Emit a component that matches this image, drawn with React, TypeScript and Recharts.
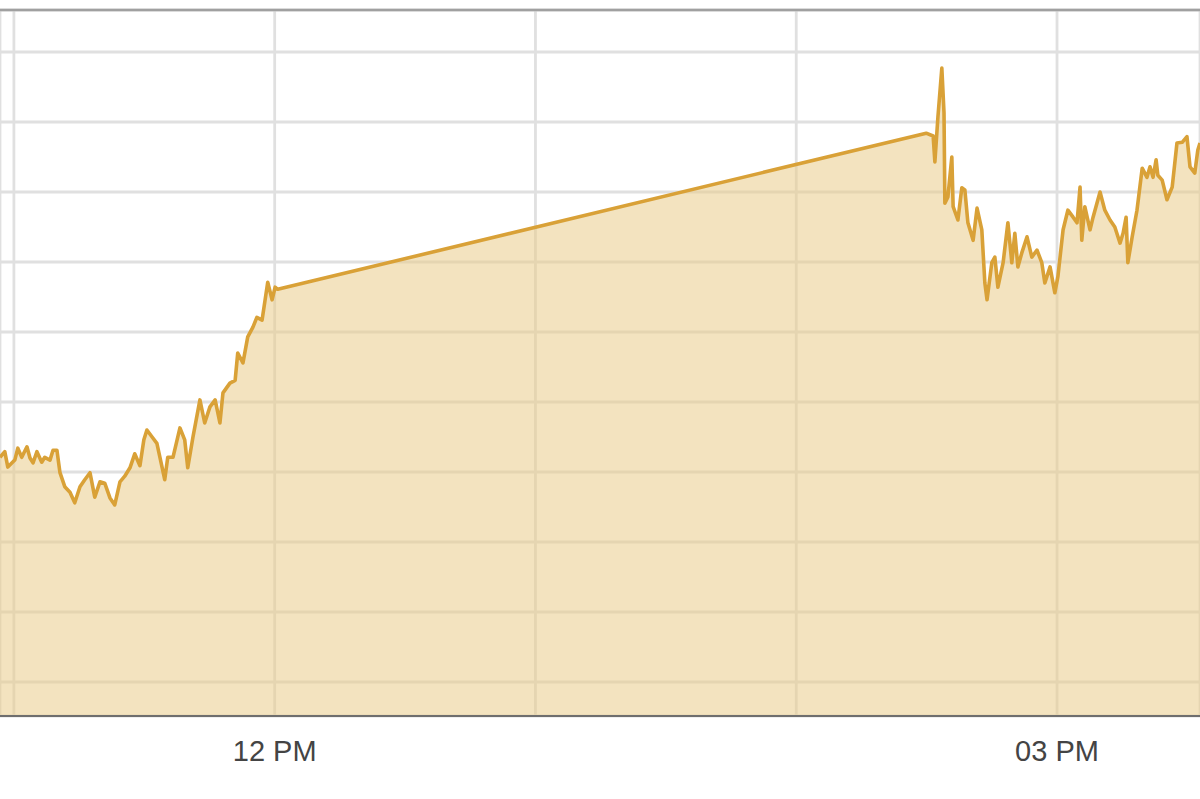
import { AreaChart, Area, XAxis, YAxis, CartesianGrid, ReferenceLine } from 'recharts'

// ── Session data (minutes since midnight, price) ─────────────────────────────

const morningTimes = [
  656.8, 657.9, 658.6, 660.2, 660.9, 661.8, 663.0, 663.7, 664.4, 665.3, 666.4, 667.1,
  668.3, 669.0, 669.9, 670.6, 671.7, 672.9, 674.0, 675.2, 676.3, 677.5, 678.6, 679.8,
  680.9, 682.1, 683.2, 684.4, 685.5, 686.7, 687.8, 689.0, 689.9, 690.6, 691.8, 692.9,
  693.6, 694.7, 695.4, 696.6, 698.2, 699.3, 700.0, 701.2, 702.8, 703.9, 705.1, 706.3,
  707.4, 708.1, 709.7, 710.9, 711.5, 712.7, 713.8, 715.0, 715.9, 717.1, 717.8, 718.4,
  719.4, 720.1, 720.7,
]
const morningPrices = [
  132.1, 132.9, 130.7, 131.7, 133.4, 132.1, 133.6, 132.0, 131.3, 132.9, 131.4, 132.1,
  131.7, 133.1, 133.1, 129.9, 127.9, 127.1, 125.6, 127.9, 128.9, 129.9, 126.4, 128.6,
  128.4, 126.3, 125.3, 128.6, 129.4, 130.6, 132.6, 130.9, 134.6, 136.0, 135.0, 134.1,
  132.1, 128.9, 132.1, 132.1, 136.3, 134.6, 130.6, 135.0, 140.3, 137.0, 139.3, 140.3,
  137.0, 141.3, 142.7, 143.1, 147.0, 145.6, 149.3, 150.7, 152.1, 151.7, 154.6, 157.1,
  154.6, 156.4, 156.1,
]

const afternoonTimes = [
  869.9, 871.5, 871.9, 872.6, 873.5, 874.0, 874.2, 874.9, 875.8, 876.1, 877.2, 878.1,
  878.8, 879.5, 880.7, 881.6, 882.7, 883.4, 883.9, 885.0, 885.7, 886.4, 887.6, 888.7,
  889.6, 890.3, 891.0, 891.9, 893.1, 894.2, 895.4, 896.5, 897.2, 898.4, 899.5, 900.2,
  901.4, 902.5, 903.7, 904.6, 905.3, 905.7, 906.4, 907.6, 908.3, 909.9, 911.0, 912.2,
  913.3, 914.5, 915.2, 915.9, 916.3, 917.3, 918.4, 919.6, 920.7, 921.4, 922.1, 922.8,
  923.2, 924.2, 925.3, 926.5, 927.6, 928.8, 929.9, 930.6, 931.7, 932.4, 932.9,
]
const afternoonPrices = [
  178.4, 178.0, 174.3, 180.7, 187.7, 181.3, 168.4, 169.3, 175.0, 167.9, 166.0, 170.6,
  170.3, 165.6, 163.1, 167.7, 164.6, 157.0, 154.6, 159.9, 160.7, 156.4, 159.9, 165.6,
  159.9, 164.1, 159.3, 161.3, 163.6, 160.7, 161.7, 159.9, 157.0, 159.3, 155.6, 157.9,
  164.6, 167.4, 166.4, 165.6, 170.7, 163.1, 167.9, 164.6, 166.4, 170.0, 167.4, 166.0,
  165.0, 162.7, 164.1, 166.4, 159.9, 163.6, 167.4, 173.4, 172.1, 173.6, 172.1, 174.6,
  172.4, 171.7, 168.9, 170.7, 177.0, 177.1, 177.9, 173.6, 172.7, 176.0, 177.0,
]

// hourly grid; only 12 PM and 03 PM carry labels
const timeTicks = [660, 720, 780, 840, 900]
const timeLabels: Record<number, string> = { 720: '12 PM', 900: '03 PM' }
const priceTicks = [100, 110, 120, 130, 140, 150, 160, 170, 180, 190]

const X_DOMAIN: [number, number] = [656.8, 932.9]
const Y_DOMAIN: [number, number] = [95.143, 196]

const data = [
  ...morningTimes.map((t, i) => ({ t, price: morningPrices[i] })),
  ...afternoonTimes.map((t, i) => ({ t, price: afternoonPrices[i] })),
]

export default function App() {
  return (
    <div style={{ position: 'absolute', left: 0, top: 0, width: 1200, height: 799, background: '#fff' }}>
      <AreaChart width={1200} height={799} data={data} margin={{ top: 10, right: 0, bottom: 0, left: 0 }}>
        <CartesianGrid stroke="#e0e0e0" strokeWidth={2.8} />
        <XAxis
          dataKey="t"
          type="number"
          domain={X_DOMAIN}
          allowDataOverflow
          ticks={timeTicks}
          interval={0}
          tickFormatter={(v: number) => timeLabels[v] ?? ''}
          height={83}
          tickLine={false}
          tickSize={0}
          tickMargin={24}
          axisLine={{ stroke: '#6e6e6e', strokeWidth: 2 }}
          tick={{ fontSize: 29, fill: '#444', fontFamily: '"Liberation Sans", Arial, sans-serif' }}
        />
        <YAxis hide type="number" domain={Y_DOMAIN} ticks={priceTicks} allowDataOverflow />
        <ReferenceLine y={196} stroke="#a0a0a0" strokeWidth={2.5} ifOverflow="visible" />
        <Area
          type="linear"
          dataKey="price"
          stroke="#d9a137"
          strokeWidth={3.6}
          strokeLinejoin="round"
          fill="#e8cb88"
          fillOpacity={0.54}
          isAnimationActive={false}
          dot={false}
          activeDot={false}
        />
      </AreaChart>
    </div>
  )
}
